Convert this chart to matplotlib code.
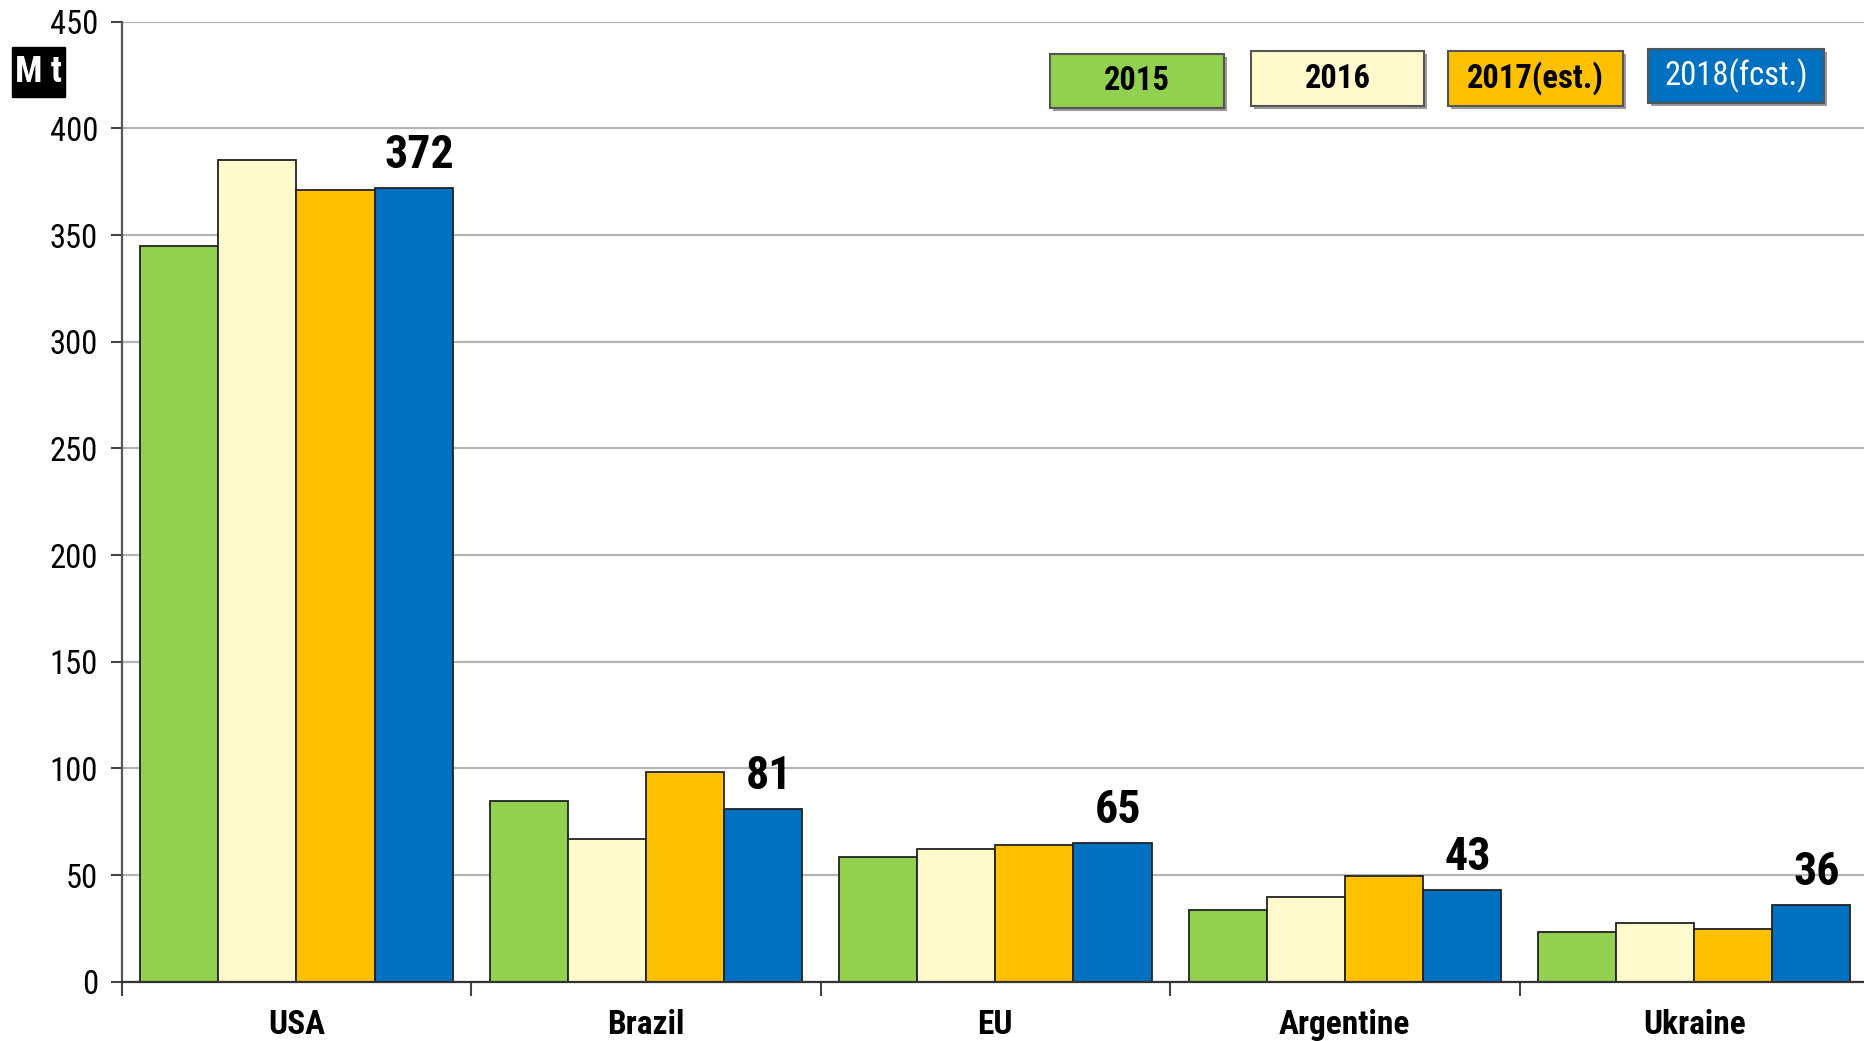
import matplotlib
matplotlib.use("Agg")
import matplotlib.pyplot as plt
from matplotlib import font_manager
from matplotlib.patches import Rectangle
import numpy as np

countries = ["USA", "Brazil", "EU", "Argentine", "Ukraine"]
series_names = ["2015", "2016", "2017(est.)", "2018(fcst.)"]
v2015 = [345, 84.5, 58.6, 33.6, 23.1]
v2016 = [385, 66.7, 62.1, 39.8, 27.7]
v2017 = [371, 98.2, 64.2, 49.5, 24.5]
v2018 = [372, 81, 65, 43, 36]
yticks = [0, 50, 100, 150, 200, 250, 300, 350, 400, 450]
unit_label = "M t"

colors = ["#92D050", "#FFF9CC", "#FFC000", "#0070C0"]
text_colors = ["black", "black", "black", "white"]
text_weights = ["bold", "bold", "bold", "normal"]

avail = sorted({f.name for f in font_manager.fontManager.ttflist})
choice = None
for cand in ["Liberation Sans Narrow", "Arial Narrow", "Roboto Condensed",
             "Open Sans Condensed", "Noto Sans Condensed", "DejaVu Sans Condensed"]:
    if cand in avail:
        choice = cand
        break
if choice is None:
    choice = "Liberation Sans"
    k = 0.88
else:
    k = 1.0
plt.rcParams["font.family"] = [choice, "DejaVu Sans"]

W, H = 1864, 1041
fig = plt.figure(figsize=(W / 100, H / 100), dpi=100)
ax = fig.add_axes([121.7 / W, 59.3 / H, (1869 - 121.7) / W, (981.7 - 21.7) / H])

series = [v2015, v2016, v2017, v2018]
x = np.arange(len(countries))
bw = 0.2235
for i, vals in enumerate(series):
    ax.bar(x + (i - 1.5) * bw, vals, width=bw, color=colors[i],
           edgecolor="#222222", linewidth=1.3, zorder=3)

for xi, v in zip(x, v2018):
    ax.annotate(f"{v:.0f}", (xi + 1.5 * bw, v), xytext=(4, 24),
                textcoords="offset points", ha="center", va="center",
                fontsize=33 * k, fontweight="bold", zorder=5)

ax.set_xlim(-0.5, len(countries) - 0.5)
ax.set_ylim(0, 450)
ax.set_yticks(yticks)
ax.set_yticklabels([str(t) for t in yticks], fontsize=23.5 * k)
ax.set_xticks(x)
ax.set_xticklabels(countries, fontsize=24 * k, fontweight="bold")
ax.set_xticks(np.arange(-0.5, len(countries), 1.0), minor=True)
ax.tick_params(axis="x", which="major", length=0, pad=20)
ax.tick_params(axis="x", which="minor", length=10, width=1.5, color="#444444", direction="out")
ax.tick_params(axis="y", length=8, width=1.5, color="#444444", direction="out", pad=9)

ax.yaxis.grid(True, color="#B5B5B5", linewidth=1.6, zorder=0)
ax.set_axisbelow(True)
for s in ["top", "right"]:
    ax.spines[s].set_visible(False)
ax.spines["left"].set_color("#555555")
ax.spines["left"].set_linewidth(1.6)
ax.spines["bottom"].set_color("#333333")
ax.spines["bottom"].set_linewidth(1.6)
ax.spines["bottom"].set_zorder(4)

# unit box
ub = Rectangle((12 / W, 1 - 97 / H), 53 / W, 50 / H, transform=fig.transFigure,
               facecolor="black", edgecolor="black", zorder=6)
fig.add_artist(ub)
fig.text(38.5 / W, 1 - 72 / H, unit_label, ha="center", va="center", fontsize=26 * k,
         fontweight="bold", color="white", zorder=7)

boxes = [(1050, 53.5, 1224, 108), (1251, 51, 1424, 106), (1448, 51, 1623, 106), (1648, 49, 1824, 103)]
for (x0, y0, x1, y1), name, c, tc, tw in zip(boxes, series_names, colors, text_colors, text_weights):
    sh = Rectangle(((x0 + 3) / W, 1 - (y1 + 3) / H), (x1 - x0) / W, (y1 - y0) / H,
                   transform=fig.transFigure, facecolor="#9A9A9A", edgecolor="none", zorder=6)
    fig.add_artist(sh)
    r = Rectangle((x0 / W, 1 - y1 / H), (x1 - x0) / W, (y1 - y0) / H,
                  transform=fig.transFigure, facecolor=c, edgecolor="#555555",
                  linewidth=1.5, zorder=7)
    fig.add_artist(r)
    fig.text((x0 + x1) / 2 / W, 1 - (y0 + y1) / 2 / H, name, ha="center", va="center",
             fontsize=25 * k * 0.94, fontweight=tw, color=tc, zorder=8)

fig.savefig("out.png", dpi=100)
